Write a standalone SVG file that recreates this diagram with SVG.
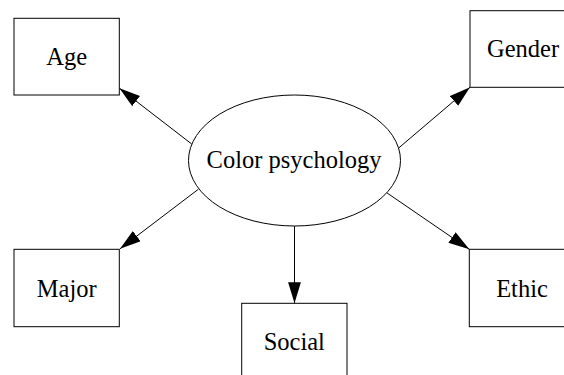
<svg xmlns="http://www.w3.org/2000/svg" width="564" height="375" viewBox="0 0 564 375">
<style>
.n{fill:#fff;stroke:#000;stroke-width:1}
.t{font-family:"Liberation Serif","Times New Roman",serif;font-size:24.5px;fill:#000;text-anchor:middle}
.e{stroke:#000;stroke-width:1;fill:none;marker-end:url(#ah)}
</style>
<defs>
<marker id="ah" markerUnits="userSpaceOnUse" markerWidth="22" markerHeight="14" refX="21" refY="6.4" orient="auto">
<path d="M0,0 L21,6.4 L0,12.8 z" fill="#000"/>
</marker>
</defs>
<rect width="564" height="375" fill="#fff"/>
<g id="edges">
<line class="e" x1="191.7" y1="144" x2="119.5" y2="88.3"/>
<line class="e" x1="398.3" y1="148.3" x2="470" y2="87.3"/>
<line class="e" x1="198.3" y1="189.3" x2="120" y2="248.8"/>
<line class="e" x1="294.5" y1="226" x2="294.5" y2="303.3"/>
<line class="e" x1="386.7" y1="192.7" x2="469.3" y2="249.3"/>
</g>
<g id="color-psychology">
<ellipse class="n" cx="294.5" cy="160.5" rx="106" ry="65.5"/>
<text class="t" x="294" y="168.3">Color psychology</text>
</g>
<g id="age">
<rect class="n" x="14" y="18.3" width="105.3" height="76.7"/>
<text class="t" x="66.7" y="65">Age</text>
</g>
<g id="gender">
<rect class="n" x="470" y="10.7" width="105.5" height="76.6"/>
<text class="t" x="523" y="57">Gender</text>
</g>
<g id="major">
<rect class="n" x="14" y="249.3" width="105.3" height="77.4"/>
<text class="t" x="66.7" y="296.7">Major</text>
</g>
<g id="social">
<rect class="n" x="241.7" y="303.3" width="105.3" height="77"/>
<text class="t" x="294.3" y="350">Social</text>
</g>
<g id="ethic">
<rect class="n" x="469.3" y="249.3" width="105.5" height="77.4"/>
<text class="t" x="522" y="296.7">Ethic</text>
</g>
</svg>
